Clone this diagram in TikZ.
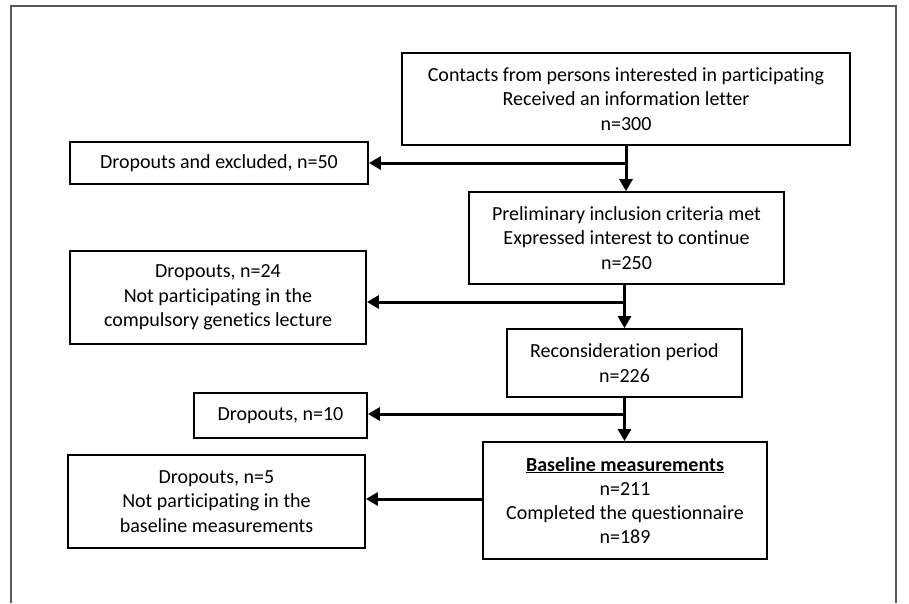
\documentclass[tikz,border=0pt]{standalone}
\usepackage{fontspec}
\setmainfont{Carlito}[Ligatures=NoCommon]
\usetikzlibrary{arrows.meta}
\begin{document}
\begin{tikzpicture}[x=1pt,y=-1pt,
  box/.style={draw=black, line width=1.8pt, align=center, inner sep=0pt,
    font=\fontsize{20}{24.3}\selectfont},
  arr/.style={line width=3pt, -{Triangle[width=13pt,length=12pt]}},
  frame/.style={draw=black!65, line width=1.6pt}]
\useasboundingbox (0,0) rectangle (909,603);
\draw[frame] (11,603) -- (11,6) -- (896,6) -- (896,603);
\node[box, minimum width=448pt, minimum height=92pt] (b1) at (626,99)
  {Contacts from persons interested in participating\\Received an information letter\\n=300};
\node[box, minimum width=315pt, minimum height=92pt] (b2) at (626.5,238)
  {Preliminary inclusion criteria met\\Expressed interest to continue\\n=250};
\node[box, minimum width=235pt, minimum height=68pt] (b3) at (624.5,363)
  {Reconsideration period\\n=226};
\node[box, minimum width=284pt, minimum height=117pt] (b4) at (625,500.5)
  {\underline{\textbf{Baseline measurements}}\\n=211\\Completed the questionnaire\\n=189};
\node[box, minimum width=298pt, minimum height=42pt] (d1) at (219,163)
  {Dropouts and excluded, n=50};
\node[box, minimum width=296pt, minimum height=93pt] (d2) at (218,297.5)
  {Dropouts, n=24\\Not participating in the\\compulsory genetics lecture};
\node[box, minimum width=173pt, minimum height=45pt] (d3) at (280.5,415.5)
  {Dropouts, n=10};
\node[box, minimum width=297pt, minimum height=93pt] (d4) at (216.5,501.5)
  {Dropouts, n=5\\Not participating in the\\baseline measurements};
\coordinate (j1) at (626,163);
\coordinate (j2) at (624.5,302);
\coordinate (j3) at (624.5,414);
\coordinate (j4) at (483,499);
\draw[arr] (b1.south -| j1) -- (b2.north -| j1);
\draw[arr] (b2.south -| j2) -- (b3.north -| j2);
\draw[arr] (b3.south -| j3) -- (b4.north -| j3);
\draw[arr] (j1) -- (j1 -| d1.east);
\draw[arr] (j2) -- (j2 -| d2.east);
\draw[arr] (j3) -- (j3 -| d3.east);
\draw[arr] (j4) -- (j4 -| d4.east);
\end{tikzpicture}
\end{document}
